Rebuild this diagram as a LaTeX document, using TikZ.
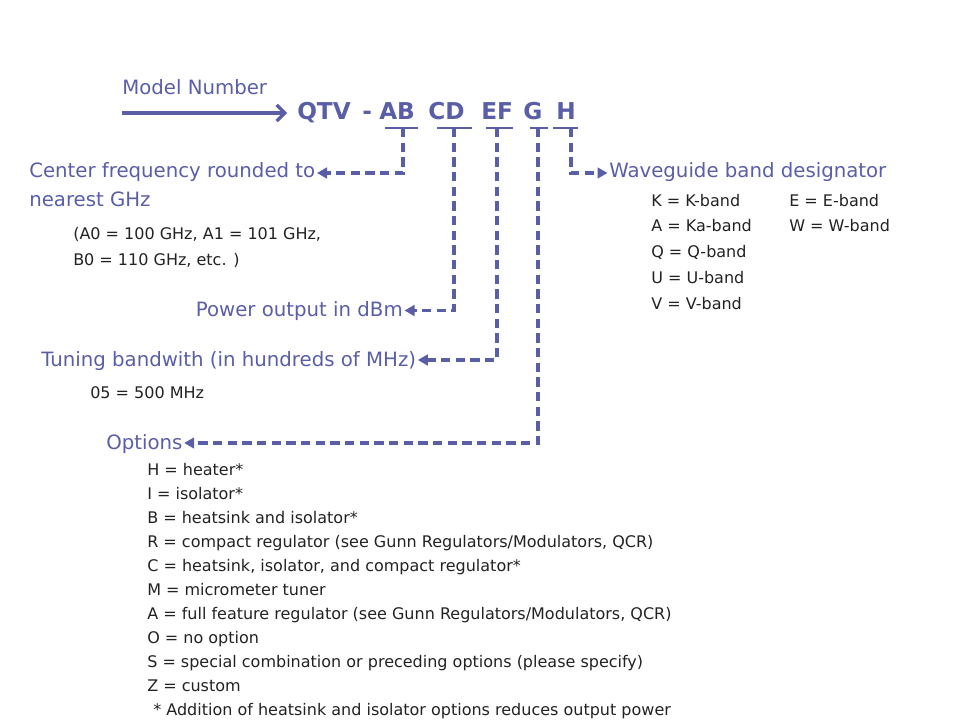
\documentclass[tikz,border=0pt]{standalone}
\usepackage{fontspec}
\setmainfont{DejaVu Sans}
\usetikzlibrary{arrows.meta,calc}
\definecolor{navy}{HTML}{5A5EA6}
\definecolor{ink}{HTML}{222222}
\begin{document}
\begin{tikzpicture}[x=0.75pt,y=-0.75pt,
  lbl/.style={inner sep=0pt, text=navy, font=\fontsize{14.8}{17}\selectfont, anchor=base west},
  txt/.style={inner sep=0pt, text=ink, font=\fontsize{12}{14}\selectfont, anchor=base west},
  code/.style={inner sep=0pt, text=navy, font=\fontsize{17.4}{20}\selectfont\bfseries, anchor=base west},
  lead/.style={draw=navy, line width=2.6pt, dash pattern=on 7pt off 4pt, -{Triangle[length=7.5pt,width=8pt]}},
  mainarrow/.style={draw=navy, line width=2.5pt, -{Straight Barb[length=6pt,width=12pt,line width=2.5pt]}},
  bar/.style={draw=navy, line width=1.6pt},
]
\useasboundingbox (0,0) rectangle (960,720);

% model number
\node[lbl] (mn) at (122,95) {Model Number};
\coordinate (mstart) at (122,113);
\coordinate (mend) at (287,113);
\draw[mainarrow] (mstart) -- (mend);

\node[code] (qtv) at (297,120) {QTV};
\node[code] (hy) at (362,120) {-};
\node[code] (ab) at (379,120) {AB};
\node[code] (cd) at (428,120) {CD};
\node[code] (ef) at (481,120) {EF};
\node[code] (g) at (523,120) {G};
\node[code] (h) at (556,120) {H};

% bars
\draw[bar] (385,128) -- (418,128);
\draw[bar] (437,128) -- (472,128);
\draw[bar] (486,128) -- (513,128);
\draw[bar] (530,128) -- (548,128);
\draw[bar] (553,128) -- (578,128);
\coordinate (abT) at (403,128);
\coordinate (cdT) at (454,128);
\coordinate (efT) at (497,128);
\coordinate (gT) at (538,128);
\coordinate (hT) at (571,128);

% labels
\node[lbl] (cf) at (29,178) {Center frequency rounded to};
\node[lbl] (cf2) at (29,207) {nearest GHz};
\node[txt] (cfa) at (73,240) {(A0 = 100 GHz, A1 = 101 GHz,};
\node[txt] (cfb) at (73,266) {B0 = 110 GHz, etc. )};

\node[lbl, anchor=base east] (pw) at (403,316) {Power output in dBm};

\node[lbl] (tb) at (41,366) {Tuning bandwith (in hundreds of MHz)};
\node[txt] (tba) at (90,398) {05 = 500 MHz};

\node[lbl] (op) at (106,449) {Options};
\node[txt] (o1) at (147,475) {H = heater*};
\node[txt] (o2) at (147,499) {I = isolator*};
\node[txt] (o3) at (147,523) {B = heatsink and isolator*};
\node[txt] (o4) at (147,547) {R = compact regulator (see Gunn Regulators/Modulators, QCR)};
\node[txt] (o5) at (147,571) {C = heatsink, isolator, and compact regulator*};
\node[txt] (o6) at (147,595) {M = micrometer tuner};
\node[txt] (o7) at (147,619) {A = full feature regulator (see Gunn Regulators/Modulators, QCR)};
\node[txt] (o8) at (147,643) {O = no option};
\node[txt] (o9) at (147,667) {S = special combination or preceding options (please specify)};
\node[txt] (o10) at (147,691) {Z = custom};
\node[txt] (fn) at (153,715) {* Addition of heatsink and isolator options reduces output power};

\node[lbl] (wg) at (609,178) {Waveguide band designator};
\node[txt] (w1) at (651,207) {K = K-band};
\node[txt] (w2) at (651,232) {A = Ka-band};
\node[txt] (w3) at (651,258) {Q = Q-band};
\node[txt] (w4) at (651,284) {U = U-band};
\node[txt] (w5) at (651,310) {V = V-band};
\node[txt] (w6) at (789,207) {E = E-band};
\node[txt] (w7) at (789,232) {W = W-band};

% leaders
\draw[lead] (abT) |- ($(cf.base east)+(1.5,-5)$);
\draw[lead] (cdT) |- ($(pw.base east)+(1.5,-5.5)$);
\draw[lead] (efT) |- ($(tb.base east)+(1.5,-6)$);
\draw[lead] (gT) |- ($(op.base east)+(1.5,-6)$);
\draw[lead] (hT) |- ($(wg.base west)+(-1.5,-5)$);
\end{tikzpicture}
\end{document}
